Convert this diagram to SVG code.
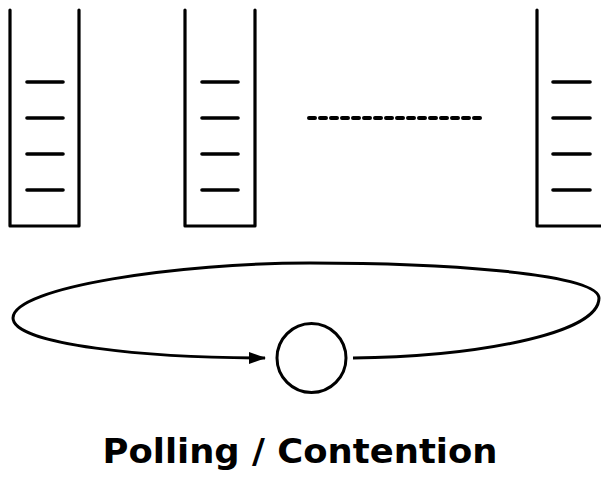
<svg xmlns="http://www.w3.org/2000/svg" width="601" height="482" viewBox="0 0 601 482">
<style>
.q{fill:none;stroke:#000;stroke-width:3.2;stroke-linejoin:round;stroke-linecap:round}
.d{stroke:#000;stroke-width:3.6;stroke-linecap:round}
.c{fill:none;stroke:#000;stroke-width:3}
.t{font-family:"DejaVu Sans","Liberation Sans",sans-serif;font-weight:bold;font-size:33px;fill:#000}
</style>
<defs>
<marker id="ah" markerWidth="18" markerHeight="12" refX="16" refY="6" orient="auto" markerUnits="userSpaceOnUse">
<path d="M0,0 L17,6 L0,12 Z" fill="#000"/>
</marker>
</defs>
<g id="queue1">
<path class="q" d="M10,10 V226 H79 V10"/>
<line class="d" x1="27" y1="82" x2="63" y2="82"/>
<line class="d" x1="27" y1="118" x2="63" y2="118"/>
<line class="d" x1="27" y1="154" x2="63" y2="154"/>
<line class="d" x1="27" y1="190" x2="63" y2="190"/>
</g>
<g id="queue2">
<path class="q" d="M185,10 V226 H255 V10"/>
<line class="d" x1="202" y1="82" x2="238" y2="82"/>
<line class="d" x1="202" y1="118" x2="238" y2="118"/>
<line class="d" x1="202" y1="154" x2="238" y2="154"/>
<line class="d" x1="202" y1="190" x2="238" y2="190"/>
</g>
<g id="ellipsis">
<line x1="309" y1="118" x2="482" y2="118" stroke="#000" stroke-width="4" stroke-linecap="round" stroke-dasharray="6 5"/>
</g>
<g id="queue3">
<path class="q" d="M537,10 V226 H608"/>
<line class="d" x1="553" y1="82" x2="590" y2="82"/>
<line class="d" x1="553" y1="118" x2="590" y2="118"/>
<line class="d" x1="553" y1="154" x2="590" y2="154"/>
<line class="d" x1="553" y1="190" x2="590" y2="190"/>
</g>
<g id="server">
<circle cx="311.5" cy="358" r="34.5" class="c"/>
</g>
<g id="connectors">
<path class="c" marker-end="url(#ah)" d="M353,358 C470,357 599,335 599,298 C598,272 430,263 310,263 C180,263 13,287 13,318 C13,345 150,358 265,358"/>
</g>
<g id="label">
<text class="t" x="300" y="463" text-anchor="middle" textLength="395" lengthAdjust="spacingAndGlyphs">Polling / Contention</text>
</g>
</svg>
